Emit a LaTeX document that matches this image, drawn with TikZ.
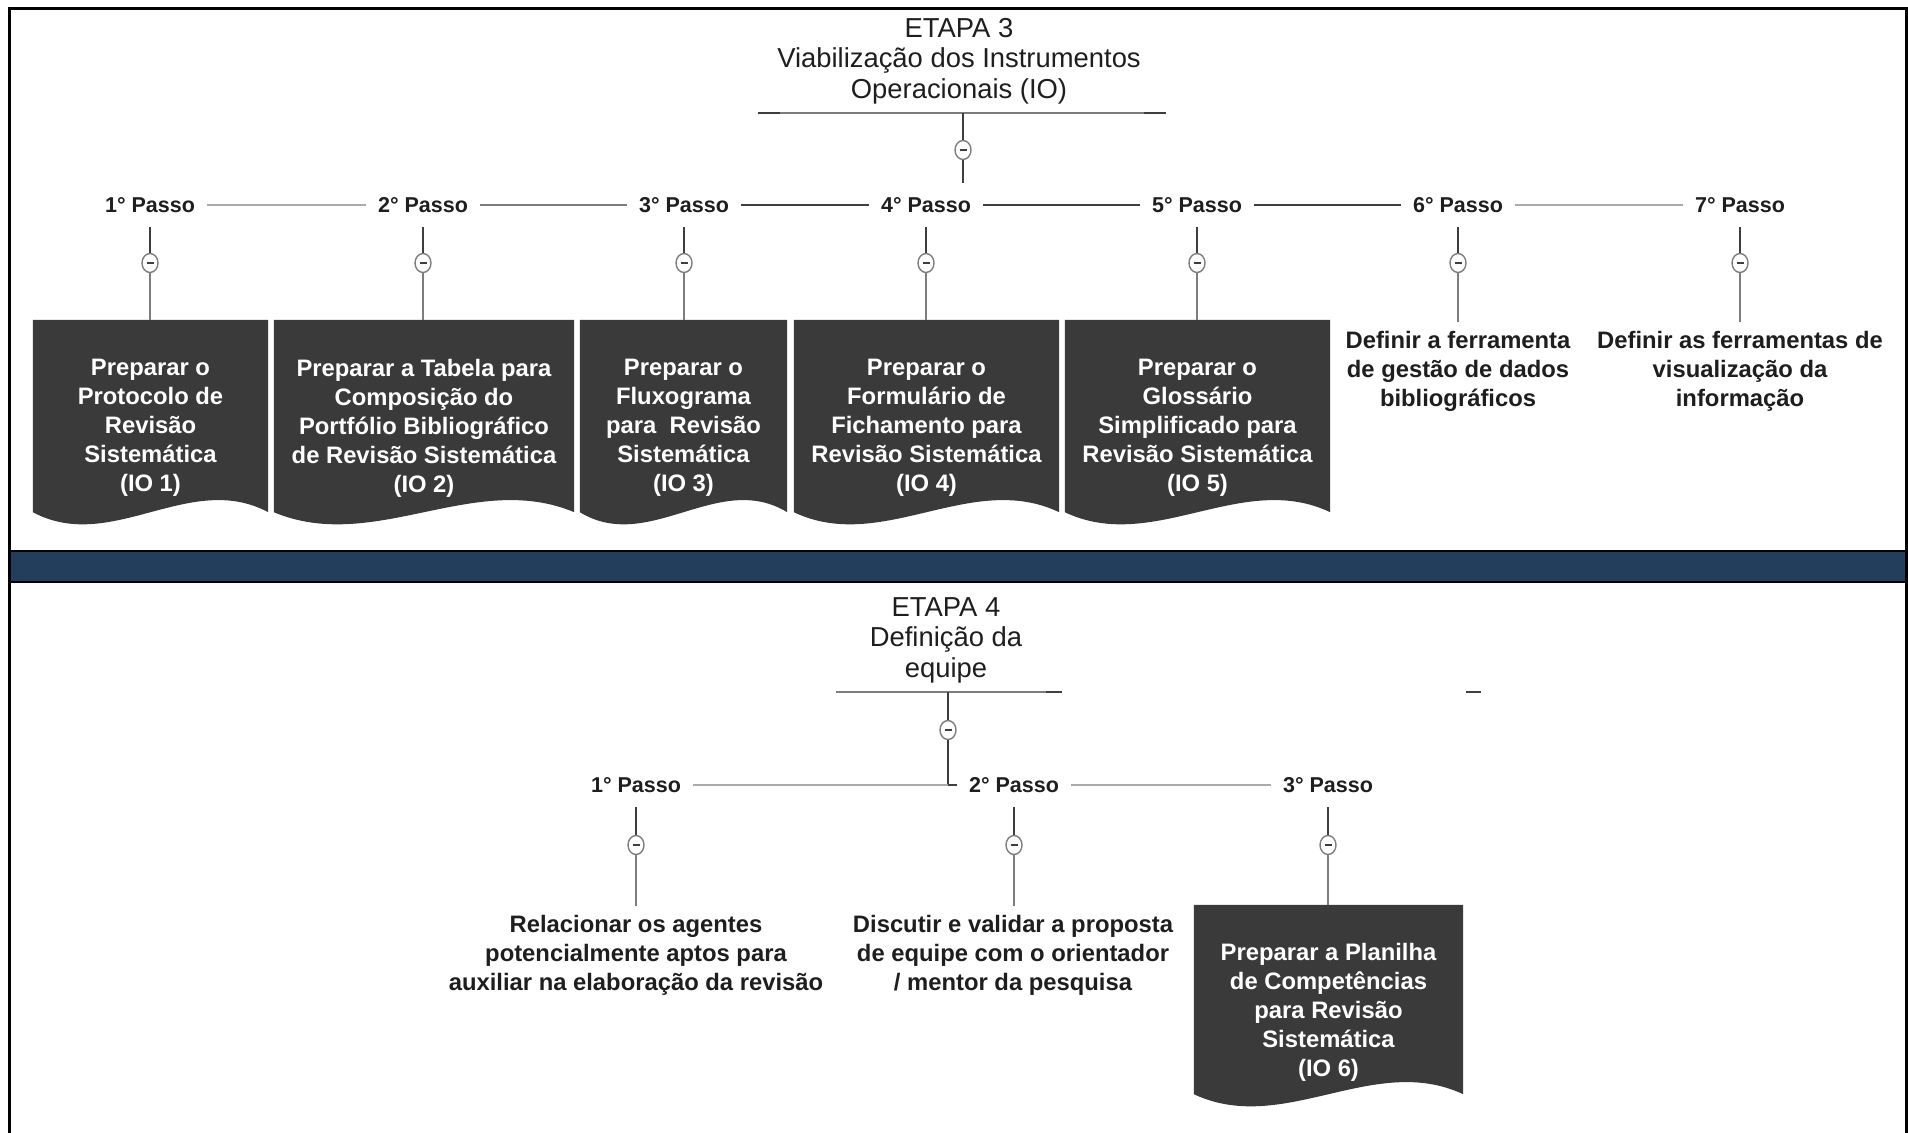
\documentclass[tikz,border=0pt]{standalone}
\usepackage{fontspec}
\setmainfont{Liberation Sans}
\usetikzlibrary{calc,shapes.geometric}
\definecolor{boxgray}{RGB}{58,58,58}
\definecolor{bandblue}{RGB}{35,61,92}
\definecolor{txt}{RGB}{30,30,30}
\definecolor{lgray}{RGB}{170,170,170}
\definecolor{mgray}{RGB}{125,125,125}
\definecolor{dgray}{RGB}{62,62,62}
\newcommand\docfill[1]{%
  \fill[boxgray] (#1.south west) -- (#1.north west) -- (#1.north east) -- (#1.south east)
    .. controls ($(#1.south east)!0.3333!(#1.south west)+(0,-42)$) and ($(#1.south west)!0.3333!(#1.south east)+(0,42)$) .. (#1.south west) -- cycle;}
\tikzset{
  passo/.style={font=\bfseries\fontsize{21.5}{26}\selectfont, text=txt, inner xsep=12pt, inner ysep=0pt, minimum height=44pt},
  titulo/.style={font=\fontsize{27.4}{30.5}\selectfont, text=txt, align=center, inner sep=0pt},
  desc/.style={font=\bfseries\fontsize{23.8}{29}\selectfont, text=txt, align=center, inner xsep=0pt, inner ysep=9pt, anchor=north},
  boxtext/.style={font=\bfseries\fontsize{23.8}{29}\selectfont, text=white, align=center, inner sep=0pt},
  iobox/.style={inner sep=0pt, minimum height=192pt},
  knob/.style={ellipse, draw=mgray, fill=white, line width=1.4pt, minimum width=16pt, minimum height=19pt, inner sep=0pt,
    path picture={\draw[dgray, line width=1.6pt] ([xshift=-3.5pt]path picture bounding box.center) -- ([xshift=3.5pt]path picture bounding box.center);}},
  stemup/.style={draw=dgray, line width=2pt},
  stemdown/.style={draw=mgray, line width=1.8pt},
  seglight/.style={draw=lgray, line width=2.6pt},
  segmid/.style={draw=mgray, line width=2.6pt},
  segdark/.style={draw=dgray, line width=2.6pt},
  headline/.style={draw=mgray, line width=2pt},
  headend/.style={draw=dgray, line width=2.4pt},
}
\begin{document}
\begin{tikzpicture}[x=1pt,y=-1pt]
\useasboundingbox (0,0) rectangle (1908,1132);

% frame and band
\fill[bandblue] (9,551) rectangle (1906,582);
\draw[black, line width=2.5pt] (9,551) -- (1906,551);
\draw[black, line width=2.5pt] (9,582) -- (1906,582);
\draw[black, line width=3pt] (9,1140) -- (9,9) -- (1906,9) -- (1906,1140);

% ===== ETAPA 3 =====
\node[titulo] (T3) at (959,61) {ETAPA 3\\Viabilização dos Instrumentos\\Operacionais (IO)};
\coordinate (T3a) at (758,113);
\coordinate (T3b) at (1166,113);
\coordinate (T3v) at (963,113);
\draw[headline] (T3a) -- (T3b);
\draw[headend] (T3a) -- ++(22,0);
\draw[headend] (T3b) -- ++(-22,0);

\node[passo] (P1) at (150,205) {1° Passo};
\node[passo] (P2) at (423,205) {2° Passo};
\node[passo] (P3) at (684,205) {3° Passo};
\node[passo] (P4) at (926,205) {4° Passo};
\node[passo] (P5) at (1197,205) {5° Passo};
\node[passo] (P6) at (1458,205) {6° Passo};
\node[passo] (P7) at (1740,205) {7° Passo};

\draw[seglight] (P1.east) -- (P2.west);
\draw[segmid] (P2.east) -- (P3.west);
\draw[segdark] (P3.east) -- (P4.west);
\draw[segdark] (P4.east) -- (P5.west);
\draw[segdark] (P5.east) -- (P6.west);
\draw[seglight] (P6.east) -- (P7.west);

\node[knob] (K0) at (963,150) {};
\draw[headend] (T3v) -- (K0.north);
\draw[headend] (K0.south) -- (K0.south |- P4.north);

\node[knob] (K1) at (150,263) {};
\node[knob] (K2) at (423,263) {};
\node[knob] (K3) at (684,263) {};
\node[knob] (K4) at (926,263) {};
\node[knob] (K5) at (1197,263) {};
\node[knob] (K6) at (1458,263) {};
\node[knob] (K7) at (1740,263) {};

\node[iobox, minimum width=235pt] (B1) at (150.5,416) {};
\node[iobox, minimum width=300pt] (B2) at (424,416) {};
\node[iobox, minimum width=207pt] (B3) at (683.5,416) {};
\node[iobox, minimum width=265pt] (B4) at (926.5,416) {};
\node[iobox, minimum width=265pt] (B5) at (1197.5,416) {};
\docfill{B1}
\docfill{B2}
\docfill{B3}
\docfill{B4}
\docfill{B5}

\node[desc] (D6) at (1458,322) {Definir a ferramenta\\de gestão de dados\\bibliográficos};
\node[desc] (D7) at (1740,322) {Definir as ferramentas de\\visualização da\\informação};

\foreach \i in {1,...,7} {\draw[stemup] (P\i.south) -- (K\i.north);}
\foreach \i in {1,...,5} {\draw[stemdown] (K\i.south) -- (K\i.south |- B\i.north);}
\draw[stemdown] (K6.south) -- (K6.south |- D6.north);
\draw[stemdown] (K7.south) -- (K7.south |- D7.north);

\node[boxtext] (X1) at (150.5,428) {Preparar o\\Protocolo de\\Revisão\\Sistemática\\(IO 1)};
\node[boxtext] (X2) at (424,428) {Preparar a Tabela para\\Composição do\\Portfólio Bibliográfico\\de Revisão Sistemática\\(IO 2)};
\node[boxtext] (X3) at (683.5,428) {Preparar o\\Fluxograma\\para\ \ Revisão\\Sistemática\\(IO 3)};
\node[boxtext] (X4) at (926.5,428) {Preparar o\\Formulário de\\Fichamento para\\Revisão Sistemática\\(IO 4)};
\node[boxtext] (X5) at (1197.5,428) {Preparar o\\Glossário\\Simplificado para\\Revisão Sistemática\\(IO 5)};

% ===== ETAPA 4 =====
\node[titulo] (T4) at (946,640) {ETAPA 4\\Definição da\\equipe};
\coordinate (T4a) at (836,692);
\coordinate (T4b) at (1062,692);
\coordinate (T4v) at (948,692);
\coordinate (T4s) at (1466,692);
\draw[headline] (T4a) -- (T4b);
\draw[headend] (T4b) -- ++(-16,0);
\draw[headend] (T4s) -- ++(15,0);

\node[passo] (Q1) at (636,785) {1° Passo};
\node[passo] (Q2) at (1014,785) {2° Passo};
\node[passo] (Q3) at (1328,785) {3° Passo};

\node[knob] (L0) at (948,730) {};
\draw[headend] (T4v) -- (L0.north);
\draw[headend] (L0.south) -- (L0.south |- Q1.center);
\draw[seglight] (Q1.east) -- (L0.south |- Q1.center);
\draw[segdark] (L0.south |- Q1.center) -- (Q2.west);
\draw[seglight] (Q2.east) -- (Q3.west);

\node[knob] (L1) at (636,845) {};
\node[knob] (L2) at (1014,845) {};
\node[knob] (L3) at (1328,845) {};
\foreach \i in {1,2,3} {\draw[stemup] (Q\i.south) -- (L\i.north);}

\node[desc] (E1) at (636,906) {Relacionar os agentes\\potencialmente aptos para\\auxiliar na elaboração da revisão};
\node[desc] (E2) at (1013,906) {Discutir e validar a proposta\\de equipe com o orientador\\/ mentor da pesquisa};
\node[iobox, minimum width=269pt, minimum height=189pt] (B6) at (1328.5,999.5) {};
\docfill{B6}
\draw[stemdown] (L1.south) -- (L1.south |- E1.north);
\draw[stemdown] (L2.south) -- (L2.south |- E2.north);
\draw[stemdown] (L3.south) -- (L3.south |- B6.north);
\node[boxtext] (X6) at (1328.5,1012) {Preparar a Planilha\\de Competências\\para Revisão\\Sistemática\\(IO 6)};
\end{tikzpicture}
\end{document}
